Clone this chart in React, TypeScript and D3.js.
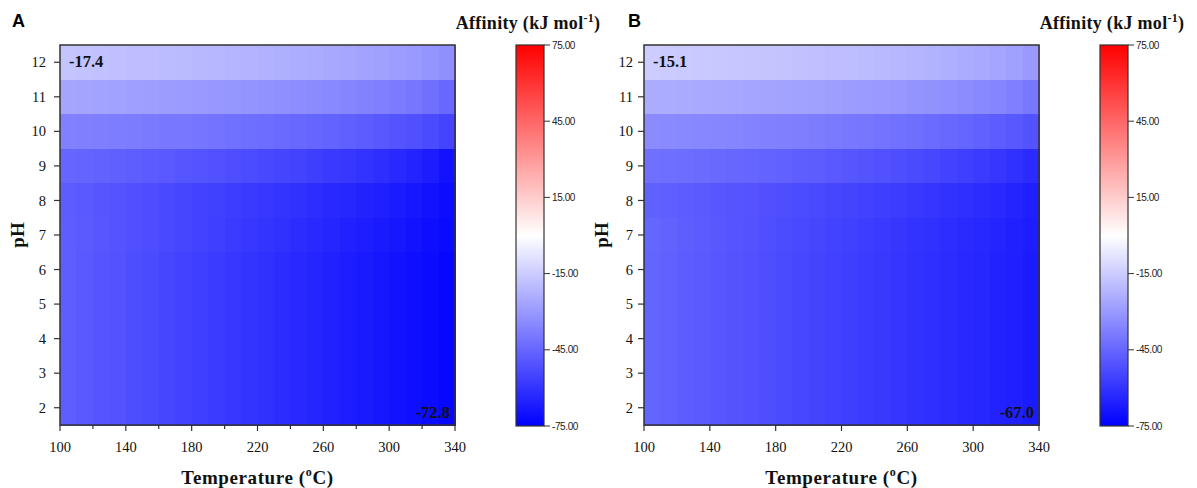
import React from "react";
import * as d3 from "d3";

// Temperature cell starts (°C), each cell spans 10 °C
const tempStarts = [100, 110, 120, 130, 140, 150, 160, 170, 180, 190, 200, 210, 220, 230, 240, 250, 260, 270, 280, 290, 300, 310, 320, 330];
// pH rows, top to bottom
const phLevels = [12, 11, 10, 9, 8, 7, 6, 5, 4, 3, 2];
const xTickLabels = [100, 140, 180, 220, 260, 300, 340];
const xMinorTicks = [120, 160, 200, 240, 280, 320];
const yTickLabels = [2, 3, 4, 5, 6, 7, 8, 9, 10, 11, 12];
const colorbarTicks = [75, 45, 15, -15, -45, -75];
const colorbarTickLabels = ["75.00", "45.00", "15.00", "-15.00", "-45.00", "-75.00"];

// Panel A affinity (kJ/mol), rows by pH
const a12 = [-17.4, -17.8, -18.2, -18.6, -19.0, -19.4, -19.9, -20.3, -20.8, -21.3, -21.8, -22.3, -22.9, -23.5, -24.1, -24.8, -25.5, -26.2, -27.0, -27.9, -28.9, -30.0, -31.3, -33.0];
const a11 = [-26.5, -26.9, -27.3, -27.7, -28.1, -28.6, -29.0, -29.5, -30.0, -30.5, -31.0, -31.6, -32.2, -32.8, -33.5, -34.2, -35.0, -35.8, -36.7, -37.7, -38.8, -40.2, -42.0, -44.5];
const a10 = [-37.0, -37.4, -37.8, -38.2, -38.6, -39.1, -39.6, -40.1, -40.6, -41.2, -41.8, -42.4, -43.0, -43.7, -44.4, -45.2, -46.0, -46.9, -47.9, -49.0, -50.2, -51.6, -53.2, -55.0];
const a9 = [-45.0, -45.6, -46.2, -46.8, -47.5, -48.2, -48.9, -49.6, -50.4, -51.2, -52.0, -52.9, -53.8, -54.7, -55.7, -56.7, -57.8, -58.9, -60.1, -61.4, -62.8, -64.6, -66.8, -69.6];
const a8 = [-48.0, -48.9, -49.8, -50.7, -51.6, -52.5, -53.4, -54.3, -55.2, -56.1, -57.0, -57.9, -58.8, -59.8, -60.8, -61.8, -62.8, -63.8, -64.9, -66.0, -67.1, -68.4, -69.8, -71.4];
const a7 = [-47.3, -48.5, -49.5, -50.5, -51.5, -52.5, -53.5, -54.5, -55.5, -56.5, -57.6, -58.7, -59.8, -60.9, -62.0, -63.1, -64.2, -65.3, -66.4, -67.5, -68.6, -69.7, -70.9, -72.2];
const aLow = [-47.5, -48.8, -49.9, -51.0, -52.1, -53.2, -54.3, -55.4, -56.5, -57.6, -58.7, -59.8, -60.9, -62.0, -63.1, -64.2, -65.3, -66.4, -67.5, -68.6, -69.6, -70.6, -71.7, -72.8];
const panelAValues = [a12, a11, a10, a9, a8, a7, aLow, aLow, aLow, aLow, aLow];

// Panel B affinity (kJ/mol), rows by pH
const b12 = [-15.1, -15.4, -15.7, -16.0, -16.3, -16.6, -16.9, -17.3, -17.7, -18.1, -18.5, -19.0, -19.5, -20.0, -20.6, -21.2, -21.9, -22.6, -23.4, -24.3, -25.3, -26.5, -28.0, -30.0];
const b11 = [-24.5, -24.8, -25.1, -25.4, -25.7, -26.0, -26.4, -26.8, -27.2, -27.6, -28.0, -28.5, -29.0, -29.5, -30.1, -30.7, -31.4, -32.1, -32.9, -33.8, -34.8, -36.0, -37.6, -39.8];
const b10 = [-34.0, -34.4, -34.8, -35.2, -35.6, -36.0, -36.5, -37.0, -37.5, -38.0, -38.6, -39.2, -39.8, -40.4, -41.1, -41.8, -42.6, -43.4, -44.3, -45.3, -46.4, -47.7, -49.2, -51.0];
const b9 = [-42.0, -42.5, -43.0, -43.5, -44.1, -44.7, -45.3, -45.9, -46.6, -47.3, -48.0, -48.8, -49.6, -50.4, -51.3, -52.2, -53.2, -54.2, -55.3, -56.4, -57.6, -59.0, -60.6, -62.5];
const b8 = [-46.5, -47.2, -47.9, -48.6, -49.3, -50.0, -50.7, -51.4, -52.1, -52.8, -53.5, -54.3, -55.1, -55.9, -56.7, -57.5, -58.4, -59.3, -60.2, -61.2, -62.2, -63.3, -64.5, -65.8];
const b7 = [-45.3, -46.3, -47.3, -48.2, -49.1, -50.0, -50.9, -51.8, -52.7, -53.6, -54.5, -55.4, -56.3, -57.2, -58.1, -59.0, -59.9, -60.8, -61.7, -62.6, -63.5, -64.5, -65.5, -66.5];
const bLow = [-45.5, -46.6, -47.6, -48.6, -49.5, -50.4, -51.3, -52.2, -53.1, -54.0, -54.9, -55.8, -56.7, -57.6, -58.5, -59.4, -60.3, -61.2, -62.1, -63.0, -63.9, -64.9, -65.9, -67.0];
const panelBValues = [b12, b11, b10, b9, b8, b7, bLow, bLow, bLow, bLow, bLow];

const color = d3
  .scaleLinear<string>()
  .domain([-75, 0, 75])
  .range(["#0000ff", "#ffffff", "#ff0000"])
  .interpolate(d3.interpolateRgb);

const SERIF = "'Liberation Serif', 'Times New Roman', serif";
const SANS = "'Liberation Sans', Arial, sans-serif";
const AXIS = "#333";

type PanelProps = {
  id: string;
  label: string;
  labelX: number;
  x0: number;
  values: number[][];
  minor: boolean;
  yLabelGap: number;
  topLeft: string;
  bottomRight: string;
};

function Panel({ id, label, labelX, x0, values, minor, yLabelGap, topLeft, bottomRight }: PanelProps) {
  const x1 = x0 + 395;
  const y0 = 45;
  const y1 = 425;
  const x = d3.scaleLinear().domain([100, 340]).range([x0, x1]);
  const y = d3.scaleLinear().domain([1.5, 12.5]).range([y1, y0]);
  const cbX = x0 + 456;
  const cbW = 28;
  const cb = d3.scaleLinear().domain([-75, 75]).range([426, 45]);
  const gradStops = [-75, -50, -25, 0, 25, 50, 75];

  return (
    <g>
      <text x={labelX} y={27} fontFamily={SANS} fontWeight="bold" fontSize={18} fill="#000">
        {label}
      </text>
      {values.map((row, ri) =>
        row.map((v, ci) => {
          const t = tempStarts[ci];
          const p = phLevels[ri];
          const xa = x(t);
          const xb = x(t + 10);
          const ya = y(p + 0.5);
          const yb = y(p - 0.5);
          return (
            <rect
              key={`${ri}-${ci}`}
              x={xa}
              y={ya}
              width={xb - xa + 0.6}
              height={yb - ya + 0.6}
              fill={color(v)}
              shapeRendering="crispEdges"
            />
          );
        })
      )}
      <rect x={x0} y={y0} width={x1 - x0} height={y1 - y0} fill="none" stroke={AXIS} strokeWidth={1.5} />
      {yTickLabels.map((p) => (
        <g key={`y${p}`}>
          <line x1={x0 - 6} x2={x0} y1={y(p)} y2={y(p)} stroke={AXIS} strokeWidth={1.2} />
          <text x={x0 - yLabelGap} y={y(p)} dy="0.35em" textAnchor="end" fontFamily={SERIF} fontSize={14.5} fill="#111">
            {p}
          </text>
        </g>
      ))}
      {xTickLabels.map((t) => (
        <g key={`x${t}`}>
          <line x1={x(t)} x2={x(t)} y1={y1} y2={y1 + 6} stroke={AXIS} strokeWidth={1.2} />
          <text x={x(t)} y={452} textAnchor="middle" fontFamily={SERIF} fontSize={14.5} fill="#111">
            {t}
          </text>
        </g>
      ))}
      {minor &&
        xMinorTicks.map((t) => (
          <line key={`m${t}`} x1={x(t)} x2={x(t)} y1={y1} y2={y1 + 4} stroke={AXIS} strokeWidth={1.2} />
        ))}
      <text
        transform={`translate(${x0 - 36},${(y0 + y1) / 2}) rotate(-90)`}
        textAnchor="middle"
        fontFamily={SERIF}
        fontWeight="bold"
        fontSize={19}
        fill="#111"
      >
        pH
      </text>
      <text
        x={(x0 + x1) / 2}
        y={484}
        textAnchor="middle"
        fontFamily={SERIF}
        fontWeight="bold"
        fontSize={19}
        letterSpacing={0.6}
        fill="#111"
      >
        Temperature (
        <tspan fontSize={12} dy={-8}>
          o
        </tspan>
        <tspan dy={8}>C)</tspan>
      </text>
      <text x={x0 + 9} y={67} fontFamily={SERIF} fontWeight="bold" fontSize={16.5} fill="#111">
        {topLeft}
      </text>
      <text x={x1 - 5} y={418} textAnchor="end" fontFamily={SERIF} fontWeight="bold" fontSize={16.5} fill="#111">
        {bottomRight}
      </text>

      <defs>
        <linearGradient id={`cb-${id}`} x1="0" y1="1" x2="0" y2="0">
          {gradStops.map((s) => (
            <stop key={s} offset={(s + 75) / 150} stopColor={color(s)} />
          ))}
        </linearGradient>
      </defs>
      <text
        x={cbX + cbW / 2 - 2}
        y={29}
        textAnchor="middle"
        fontFamily={SERIF}
        fontWeight="bold"
        fontSize={18}
        letterSpacing={0.3}
        fill="#111"
      >
        Affinity (kJ mol
        <tspan fontSize={12} dy={-7}>
          -1
        </tspan>
        <tspan dy={7}>)</tspan>
      </text>
      <rect x={cbX} y={45} width={cbW} height={381} fill={`url(#cb-${id})`} stroke={AXIS} strokeWidth={1.2} />
      {colorbarTicks.map((v, i) => (
        <g key={`c${v}`}>
          <line x1={cbX + cbW} x2={cbX + cbW + 6} y1={cb(v)} y2={cb(v)} stroke={AXIS} strokeWidth={1} />
          <text
            x={cbX + cbW + 8}
            y={cb(v)}
            dy="0.35em"
            fontFamily={SANS}
            fontSize={10}
            letterSpacing={-0.4}
            fill="#222"
          >
            {colorbarTickLabels[i]}
          </text>
        </g>
      ))}
    </g>
  );
}

export default function App() {
  return (
    <svg
      width={1197}
      height={488}
      viewBox="0 0 1197 488"
      style={{ position: "absolute", left: 0, top: 0, background: "#fff" }}
    >
      <rect x={0} y={0} width={1197} height={488} fill="#fff" />
      <Panel
        id="A"
        label="A"
        labelX={12}
        x0={60}
        values={panelAValues}
        minor={true}
        yLabelGap={14}
        topLeft="-17.4"
        bottomRight="-72.8"
      />
      <Panel
        id="B"
        label="B"
        labelX={628}
        x0={644}
        values={panelBValues}
        minor={false}
        yLabelGap={11}
        topLeft="-15.1"
        bottomRight="-67.0"
      />
    </svg>
  );
}
